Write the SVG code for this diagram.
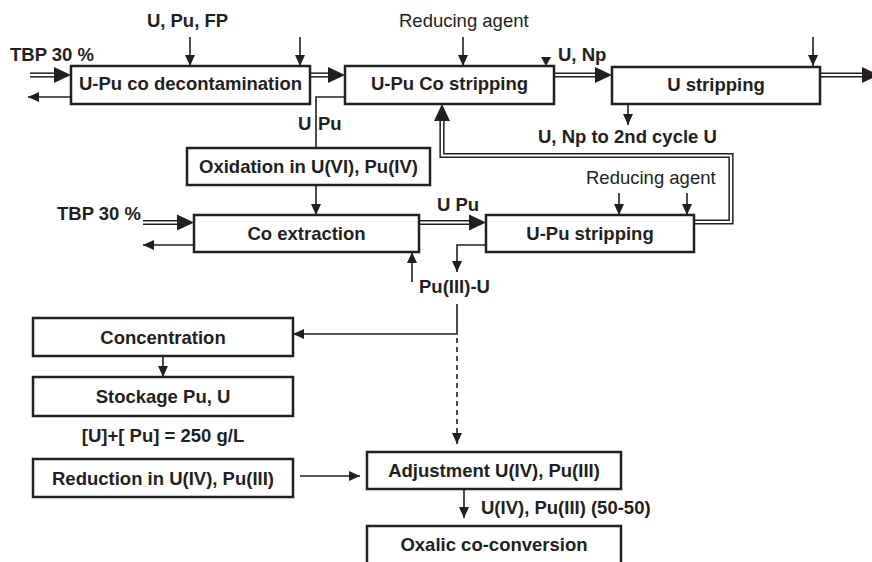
<svg xmlns="http://www.w3.org/2000/svg" width="872" height="562" viewBox="0 0 872 562">
  <style>
    .box { fill: #fff; stroke: #231f20; stroke-width: 2.5; }
    .t { font-family: "Liberation Sans", Arial, Helvetica, sans-serif; font-size: 18.5px; font-weight: bold; fill: #231f20; }
    .n { font-family: "Liberation Sans", Arial, Helvetica, sans-serif; font-size: 18.5px; fill: #231f20; }
    .c { text-anchor: middle; }
    .ln { fill: none; stroke: #231f20; stroke-width: 1.6; }
    .arr { marker-end: url(#ah); }
    .dbl { fill: none; stroke: #231f20; stroke-width: 5.2; stroke-linejoin: miter; }
    .dblin { fill: none; stroke: #fff; stroke-width: 2.2; stroke-linejoin: miter; }
    .big { marker-end: url(#bh); }
    .dash { stroke-dasharray: 5 4; }
  </style>
  <defs>
    <!-- small head, tip at path end -->
    <marker id="ah" markerUnits="userSpaceOnUse" markerWidth="11" markerHeight="10" refX="11" refY="5" orient="auto">
      <path d="M0,0 L11,5 L0,10 z" fill="#231f20"/>
    </marker>
    <!-- large head for double-line streams, base at path end -->
    <marker id="bh" markerUnits="userSpaceOnUse" markerWidth="17" markerHeight="16" refX="0" refY="8" orient="auto" overflow="visible">
      <path d="M0,0 L17,8 L0,16 z" fill="#231f20"/>
    </marker>
  </defs>
  <rect width="872" height="562" fill="#fff"/>

  <!-- connectors -->
  <g id="connectors">
    <!-- double-line streams -->
    <path class="dbl big" d="M30,75 H54"/><path class="dblin" d="M28,75 H54"/>
    <path class="dbl big" d="M310,75 H328"/><path class="dblin" d="M311,75 H328"/>
    <path class="dbl big" d="M554,75 H595"/><path class="dblin" d="M555,75 H595"/>
    <path class="dbl big" d="M820,75 H862"/><path class="dblin" d="M821,75 H862"/>
    <path class="dbl big" d="M143,222.5 H177"/><path class="dblin" d="M141,222.5 H177"/>
    <path class="dbl big" d="M419,222.5 H469"/><path class="dblin" d="M420,222.5 H469"/>
    <path class="dbl big" d="M694,222 H731 V155.5 H442 V121"/><path class="dblin" d="M695,222 H731 V155.5 H442 V121"/>

    <!-- single-line streams -->
    <path class="ln arr" d="M71,97 H28"/>
    <path class="ln arr" d="M190,37 V66"/>
    <path class="ln arr" d="M300,37 V66"/>
    <path class="ln arr" d="M463,37 V66"/>
    <path class="ln arr" d="M813,37 V66"/>
    <polygon points="541,57 551,57 546,66" fill="#231f20"/>
    <path class="ln" d="M345,97 H316 V148"/>
    <path class="ln arr" d="M628,104 V125"/>
    <path class="ln arr" d="M316,185 V215"/>
    <path class="ln arr" d="M194,245 H143"/>
    <path class="ln arr" d="M412,282 V252"/>
    <path class="ln arr" d="M619,193 V215"/>
    <path class="ln arr" d="M687,193 V215"/>
    <path class="ln arr" d="M486,245 H457 V272"/>
    <path class="ln arr" d="M457,304 V334 H293"/>
    <path class="ln dash" d="M457,338 V433"/>
    <path class="ln arr" d="M457,434 V444"/>
    <path class="ln arr" d="M163,356 V377"/>
    <path class="ln arr" d="M300,476 H360"/>
    <path class="ln arr" d="M464,489 V518"/>
  </g>

  <!-- process steps -->
  <g id="co-decontamination">
    <rect class="box" x="71" y="66" width="239" height="38"/>
    <text class="t c" x="190.5" y="90">U-Pu co decontamination</text>
  </g>
  <g id="co-stripping">
    <rect class="box" x="345" y="66" width="209" height="38"/>
    <text class="t c" x="449.5" y="90">U-Pu Co stripping</text>
  </g>
  <g id="u-stripping">
    <rect class="box" x="612" y="67" width="208" height="37"/>
    <text class="t c" x="716" y="91">U stripping</text>
  </g>
  <g id="oxidation">
    <rect class="box" x="187" y="148" width="243" height="37"/>
    <text class="t c" x="308.5" y="173">Oxidation in U(VI), Pu(IV)</text>
  </g>
  <g id="co-extraction">
    <rect class="box" x="194" y="215" width="225" height="37"/>
    <text class="t c" x="306.5" y="240">Co extraction</text>
  </g>
  <g id="u-pu-stripping">
    <rect class="box" x="486" y="215" width="208" height="37"/>
    <text class="t c" x="590" y="240">U-Pu stripping</text>
  </g>
  <g id="concentration">
    <rect class="box" x="33" y="318" width="260" height="38"/>
    <text class="t c" x="163" y="344">Concentration</text>
  </g>
  <g id="stockage">
    <rect class="box" x="33" y="377" width="260" height="39"/>
    <text class="t c" x="163" y="403">Stockage Pu, U</text>
  </g>
  <g id="reduction">
    <rect class="box" x="33" y="459" width="260" height="38"/>
    <text class="t c" x="163" y="485">Reduction in U(IV), Pu(III)</text>
  </g>
  <g id="adjustment">
    <rect class="box" x="367" y="452" width="254" height="37"/>
    <text class="t c" x="494" y="477">Adjustment U(IV), Pu(III)</text>
  </g>
  <g id="oxalic">
    <rect class="box" x="367" y="526" width="254" height="50"/>
    <text class="t c" x="494" y="551">Oxalic co-conversion</text>
  </g>

  <!-- stream labels -->
  <g id="labels">
    <text class="t c" x="187.5" y="27">U, Pu, FP</text>
    <text class="n" x="399" y="27">Reducing agent</text>
    <text class="t" x="10" y="61">TBP 30 %</text>
    <text class="t" x="558" y="61">U, Np</text>
    <text class="t" x="298" y="130">U</text>
    <text class="t" x="318" y="130">Pu</text>
    <text class="t" x="538" y="143">U, Np to 2nd cycle U</text>
    <text class="n" x="586" y="184">Reducing agent</text>
    <text class="t" x="57" y="220">TBP 30 %</text>
    <text class="t" x="437" y="211">U Pu</text>
    <text class="t" x="419" y="293">Pu(III)-U</text>
    <text class="t c" x="163" y="442">[U]+[ Pu] = 250 g/L</text>
    <text class="t" x="481" y="514">U(IV), Pu(III) (50-50)</text>
  </g>
</svg>
